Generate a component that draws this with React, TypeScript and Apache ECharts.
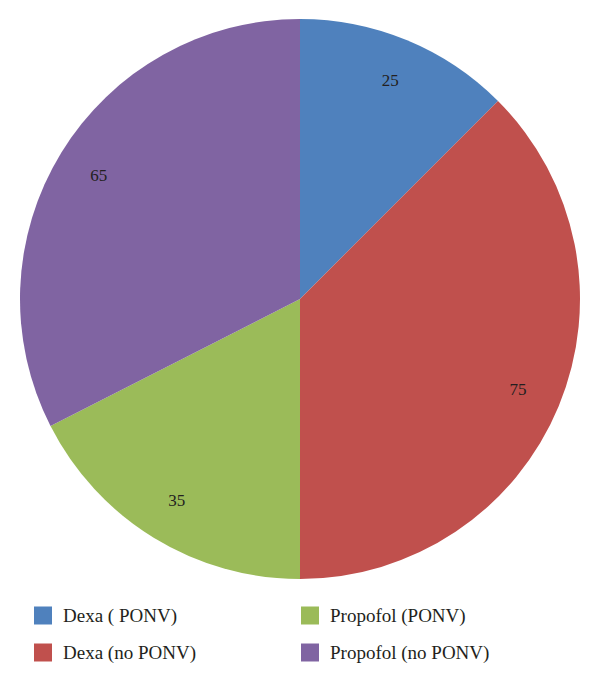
import React, { useEffect, useRef } from "react";
import * as echarts from "echarts";

const categories = ["Dexa ( PONV)", "Dexa (no PONV)", "Propofol (PONV)", "Propofol (no PONV)"];
const values = [25, 75, 35, 65];
const colors = ["#4F81BD", "#C0504D", "#9BBB59", "#8064A2"];
const legendCol1 = ["Dexa ( PONV)", "Dexa (no PONV)"];
const legendCol2 = ["Propofol (PONV)", "Propofol (no PONV)"];

export default function App() {
  const ref = useRef<HTMLDivElement>(null);
  useEffect(() => {
    if (!ref.current) return;
    const chart = echarts.init(ref.current, null, { renderer: "svg" });
    const data = categories.map((c, i) => ({ name: c, value: values[i], itemStyle: { color: colors[i] } }));
    const legendBase = {
      orient: "vertical" as const,
      icon: "rect",
      itemWidth: 18,
      itemHeight: 18,
      itemGap: 18,
      selectedMode: false,
      textStyle: { fontFamily: "Liberation Serif", fontSize: 19, color: "#231f20", padding: [0, 0, 0, 6] },
    };
    chart.setOption({
      animation: false,
      backgroundColor: "#ffffff",
      legend: [
        { ...legendBase, data: legendCol1, left: 29, top: 601 },
        { ...legendBase, data: legendCol2, left: 296, top: 601 },
      ],
      series: [
        {
          type: "pie",
          center: [300, 299],
          radius: [0, 280],
          startAngle: 90,
          clockwise: true,
          data,
          label: { show: false },
          labelLine: { show: false },
          emphasis: { disabled: true },
          silent: true,
        },
        {
          type: "pie",
          center: [300, 299],
          radius: [186, 280],
          startAngle: 90,
          clockwise: true,
          data: categories.map((c, i) => ({ name: c + " ", value: values[i], itemStyle: { color: "rgba(0,0,0,0)" } })),
          label: {
            show: true,
            position: "inside",
            formatter: "{c}",
            fontFamily: "Liberation Serif",
            fontSize: 17,
            color: "#231f20",
          },
          labelLine: { show: false },
          emphasis: { disabled: true },
          silent: true,
        },
      ],
    });
    return () => chart.dispose();
  }, []);
  return <div ref={ref} style={{ width: 600, height: 682, margin: -8 }} />;
}
